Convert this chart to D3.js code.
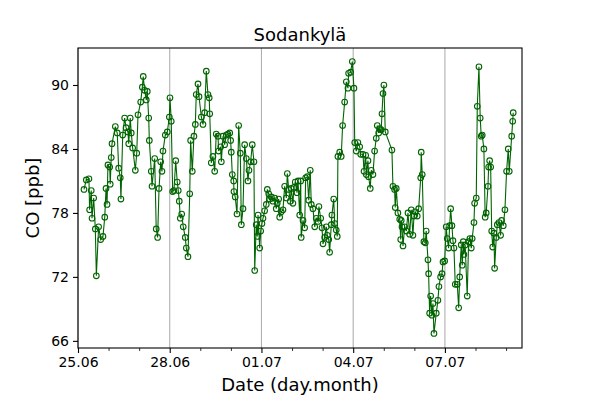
<!DOCTYPE html>
<html>
<head>
<meta charset="utf-8">
<script src="https://cdn.jsdelivr.net/npm/d3@7"></script>
<style>
  html, body { margin: 0; padding: 0; background: #fff; }
  svg { display: block; font-family: "DejaVu Sans", sans-serif; }
</style>
</head>
<body>
<svg id="chart" width="600" height="400"></svg>
<script>
// Hours since 25.06 00:00
const hours = [
  4.7, 6.5, 8.6, 9.1, 10.4, 11.0, 12.3, 13.6, 14.4, 16.2, 17.8, 19.6, 21.0, 22.0, 22.8, 23.5,
  24.9, 25.3, 26.1, 26.7, 29.3, 30.8, 31.9, 33.2, 33.7, 35.1, 36.6, 37.7, 39.2, 39.8, 41.0, 41.8,
  42.9, 45.0, 46.1, 47.1, 49.2, 50.5, 51.2, 52.3, 53.6, 54.4, 55.5, 56.0, 57.5, 58.1, 60.2, 61.4,
  62.5, 63.6, 64.9, 65.9, 66.7, 68.5, 70.1, 71.7, 72.2, 73.2, 74.3, 75.3, 76.7, 77.9, 78.7, 79.5,
  80.3, 81.4, 82.6, 84.2, 85.0, 86.3, 87.7, 88.4, 89.7, 91.0, 92.1, 92.8, 94.2, 95.0, 96.8, 98.1,
  99.4, 100.7, 102.0, 103.0, 103.4, 104.6, 105.9, 107.3, 108.5, 109.9, 110.4, 112.0, 112.5, 113.8, 115.1, 116.4,
  117.7, 119.1, 119.8, 120.3, 121.1, 122.2, 122.4, 123.4, 124.8, 126.1, 127.4, 128.2, 129.5, 130.8, 132.1, 133.4,
  134.2, 135.5, 136.8, 138.1, 138.7, 139.9, 140.7, 141.3, 142.6, 143.4, 144.4, 145.2, 146.5, 147.8, 148.6, 149.7,
  150.4, 151.7, 153.0, 154.4, 155.6, 156.4, 157.5, 158.3, 159.5, 160.9, 162.2, 163.5, 164.3, 165.4, 166.6, 167.4,
  168.7, 169.5, 170.5, 171.9, 172.7, 174.0, 174.8, 175.2, 176.6, 177.9, 178.7, 180.0, 181.1, 182.3, 183.1, 184.4,
  185.8, 187.0, 188.4, 189.1, 190.5, 191.5, 192.3, 193.6, 194.9, 195.7, 196.8, 197.5, 198.8, 199.3, 200.7, 201.5,
  202.7, 203.5, 204.0, 205.4, 206.6, 207.7, 209.3, 210.6, 211.9, 212.4, 214.0, 215.3, 216.6, 217.2, 218.4, 219.7,
  221.1, 221.9, 223.7, 224.5, 225.8, 226.3, 227.6, 228.1, 229.4, 230.2, 231.5, 232.8, 234.1, 234.9, 236.0, 236.8,
  238.0, 238.6, 239.4, 240.1, 241.2, 246.4, 247.2, 248.5, 249.0, 249.8, 251.1, 252.5, 253.3, 253.7, 254.3, 255.1,
  256.4, 257.7, 259.0, 260.3, 261.6, 262.9, 263.7, 264.7, 266.3, 267.4, 269.0, 269.4, 270.2, 271.5, 272.6, 273.3,
  274.7, 275.2, 276.0, 276.8, 277.8, 278.6, 279.4, 281.2, 282.5, 283.3, 284.6, 285.7, 286.5, 287.8, 289.0, 289.8,
  290.9, 291.7, 292.5, 293.5, 294.3, 295.1, 296.1, 297.7, 298.8, 299.6, 300.8, 301.6, 302.4, 302.9, 303.9, 305.5,
  306.6, 307.6, 308.7, 309.4, 310.8, 311.3, 312.6, 313.4, 314.7, 315.7, 316.5, 317.3, 318.6, 319.6, 320.4, 321.8,
  322.3, 323.1, 323.9, 324.7, 325.5, 326.5, 327.0, 328.3, 329.1, 330.4, 331.7, 332.5, 333.8, 335.1, 336.4, 337.7,
  338.5, 340.4, 341.2, 341.6
];
// CO mixing ratio [ppb]
const co = [
  80.2, 81.1, 81.2, 78.3, 80.1, 77.5, 79.4, 76.5, 72.1, 76.7, 75.5, 75.8, 77.6, 80.3, 78.8, 82.5,
  82.3, 80.7, 83.2, 84.5, 86.1, 85.5, 82.2, 81.3, 79.3, 85.3, 86.9, 86.0, 85.6, 84.5, 86.9, 85.5,
  84.1, 82.0, 83.6, 87.2, 88.4, 89.8, 90.8, 89.5, 88.6, 89.4, 86.9, 84.8, 81.9, 80.5, 83.1, 76.5,
  75.7, 80.3, 82.8, 81.9, 83.8, 85.3, 85.6, 87.0, 88.8, 86.6, 80.0, 80.1, 82.9, 80.9, 80.1, 79.1,
  77.5, 77.9, 76.7, 75.7, 74.7, 73.9, 79.8, 84.8, 81.9, 85.2, 86.3, 89.1, 90.1, 88.9, 87.0, 86.3,
  87.4, 91.3, 89.1, 88.8, 87.3, 82.7, 83.3, 81.9, 85.4, 85.2, 83.8, 84.2, 82.8, 85.2, 84.4, 85.3,
  85.4, 85.5, 84.8, 83.7, 81.6, 81.0, 80.0, 79.5, 77.9, 86.2, 83.6, 76.9, 78.4, 84.4, 83.1, 81.0,
  82.0, 82.8, 84.4, 82.8, 72.6, 76.9, 75.8, 77.8, 74.7, 76.3, 77.0, 77.5, 78.2, 78.8, 80.2, 79.8,
  79.3, 79.5, 79.1, 79.4, 78.4, 78.9, 79.3, 77.6, 78.1, 78.3, 80.5, 79.4, 81.7, 80.2, 79.1, 80.3,
  78.9, 80.4, 80.9, 79.9, 81.0, 77.8, 81.0, 75.7, 77.3, 76.6, 81.3, 81.4, 79.2, 82.0, 78.8, 78.4,
  76.7, 77.5, 77.2, 78.6, 77.5, 76.6, 75.1, 75.7, 76.7, 75.9, 75.5, 74.3, 76.9, 77.8, 79.3, 77.0,
  76.4, 75.8, 83.3, 83.7, 83.3, 86.2, 88.4, 90.3, 89.7, 91.1, 91.2, 92.2, 89.7, 84.6, 83.8, 84.6,
  84.2, 83.5, 83.5, 81.9, 83.4, 81.6, 82.9, 81.4, 80.3, 82.0, 81.6, 83.8, 85.0, 86.2, 85.5, 85.9,
  85.8, 87.3, 89.2, 90.0, 85.6, 83.9, 80.5, 80.2, 78.5, 80.3, 78.0, 77.4, 75.5, 77.3, 76.7, 74.9,
  76.7, 76.3, 78.0, 76.0, 78.3, 75.9, 77.7, 78.1, 77.7, 78.4, 81.3, 83.7, 81.6, 75.3, 75.2, 76.3,
  73.6, 72.3, 68.6, 70.2, 68.4, 69.5, 66.7, 68.6, 69.8, 71.1, 72.0, 72.3, 73.4, 73.5, 76.7, 75.6,
  74.7, 76.8, 78.4, 76.8, 75.4, 74.7, 71.3, 71.3, 69.1, 72.0, 75.0, 73.1, 75.3, 74.1, 75.0, 70.2,
  75.3, 75.6, 74.7, 75.6, 77.1, 78.9, 79.4, 88.0, 91.7, 86.9, 85.2, 85.3, 84.0, 77.6, 78.0, 80.5,
  82.3, 82.9, 82.3, 76.3, 74.8, 76.1, 72.8, 75.7, 76.9, 77.1, 75.9, 77.3, 76.8, 78.3, 81.9, 84.0,
  81.9, 85.2, 86.6, 87.4
];
const xTickHours = [0, 72, 144, 216, 288];
const xTickLabels = ["25.06", "28.06", "01.07", "04.07", "07.07"];
const xMinorHours = [24, 48, 96, 120, 168, 192, 240, 264, 312, 336];
const yTicks = [66, 72, 78, 84, 90];
const titleText = "Sodankylä";
const xLabelText = "Date (day.month)";
const yLabelText = "CO [ppb]";

const data = hours.map((h, i) => ({ h: h, v: co[i] }));

const svg = d3.select("#chart");
svg.append("rect").attr("width", 600).attr("height", 400).attr("fill", "#fff");

const L = 78, R = 522, T = 48, B = 348;
const x = d3.scaleLinear().domain([0, 348.5]).range([L, R]);
const y = d3.scaleLinear().domain([65.33, 93.47]).range([B, T]);

// vertical grid at major x ticks
svg.append("g").selectAll("line").data(xTickHours).join("line")
  .attr("x1", d => x(d)).attr("x2", d => x(d))
  .attr("y1", T).attr("y2", B)
  .attr("stroke", "#b0b0b0").attr("stroke-width", 1.1);

// line + markers
const plot = svg.append("g");
plot.append("path").datum(data)
  .attr("fill", "none").attr("stroke", "#006400").attr("stroke-width", 1.1)
  .attr("d", d3.line().x(d => x(d.h)).y(d => y(d.v)));
plot.selectAll("circle").data(data).join("circle")
  .attr("cx", d => x(d.h)).attr("cy", d => y(d.v)).attr("r", 2.8)
  .attr("fill", "none").attr("stroke", "#006400").attr("stroke-width", 1.1);

// axes
const xAxis = d3.axisBottom(x).tickValues(xTickHours)
  .tickFormat((d, i) => xTickLabels[i]).tickSize(5).tickPadding(4);
const gx = svg.append("g").attr("transform", `translate(0,${B})`).call(xAxis);
gx.select(".domain").remove();
gx.selectAll("text").attr("font-size", 14).attr("font-family", "DejaVu Sans").attr("fill", "#000");
gx.selectAll("line").attr("stroke", "#000").attr("stroke-width", 1.1);

const xMinor = d3.axisBottom(x).tickValues(xMinorHours).tickFormat("").tickSize(3);
const gxm = svg.append("g").attr("transform", `translate(0,${B})`).call(xMinor);
gxm.select(".domain").remove();
gxm.selectAll("line").attr("stroke", "#000").attr("stroke-width", 0.8);

const yAxis = d3.axisLeft(y).tickValues(yTicks).tickFormat(d3.format("d")).tickSize(5).tickPadding(4);
const gy = svg.append("g").attr("transform", `translate(${L},0)`).call(yAxis);
gy.select(".domain").remove();
gy.selectAll("text").attr("font-size", 14).attr("font-family", "DejaVu Sans").attr("fill", "#000");
gy.selectAll("line").attr("stroke", "#000").attr("stroke-width", 1.1);

// frame
svg.append("rect").attr("x", L).attr("y", T).attr("width", R - L).attr("height", B - T)
  .attr("fill", "none").attr("stroke", "#000").attr("stroke-width", 1.1);

// texts
svg.append("text").attr("x", (L + R) / 2).attr("y", 41).attr("text-anchor", "middle")
  .attr("font-size", 18).attr("fill", "#000").text(titleText);
svg.append("text").attr("x", (L + R) / 2).attr("y", 391).attr("text-anchor", "middle")
  .attr("font-size", 18).attr("fill", "#000").text(xLabelText);
svg.append("text").attr("transform", `translate(39,${(T + B) / 2}) rotate(-90)`)
  .attr("text-anchor", "middle").attr("font-size", 18).attr("fill", "#000").text(yLabelText);
</script>
</body>
</html>
